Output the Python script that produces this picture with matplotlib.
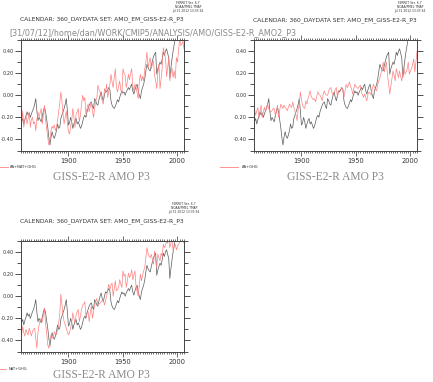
import matplotlib
matplotlib.use("Agg")
import matplotlib.pyplot as plt
from matplotlib.ticker import MultipleLocator, FixedLocator

years = list(range(1856, 2007))

obs = [
 -0.18,-0.24,-0.21,-0.26,-0.22,-0.19,-0.15,-0.18,-0.16,-0.20,
 -0.17,-0.14,-0.12,-0.08,-0.03,-0.14,-0.23,-0.20,-0.22,-0.24,
 -0.19,-0.14,-0.11,-0.15,-0.22,-0.29,-0.38,-0.45,-0.38,-0.33,
 -0.37,-0.39,-0.36,-0.32,-0.26,-0.30,-0.29,-0.21,-0.18,-0.15,
 -0.12,-0.08,-0.03,-0.14,-0.27,-0.25,-0.20,-0.24,-0.30,-0.26,
 -0.23,-0.21,-0.26,-0.24,-0.27,-0.30,-0.28,-0.24,-0.20,-0.18,
 -0.20,-0.15,-0.12,-0.09,-0.07,-0.06,-0.10,-0.12,-0.03,-0.05,
 -0.08,-0.09,-0.04,0.00,0.03,-0.02,-0.05,0.00,0.04,0.03,
 0.05,0.07,0.05,-0.05,-0.09,-0.11,-0.12,-0.10,-0.07,-0.04,
 -0.06,-0.02,0.01,0.04,0.02,0.03,0.00,0.03,0.05,0.07,
 0.05,0.08,0.10,0.04,0.01,0.05,0.08,0.10,0.04,0.00,
 -0.03,0.04,0.07,0.10,0.15,0.22,0.28,0.25,0.23,0.22,
 0.27,0.31,0.35,0.37,0.39,0.19,0.24,0.27,0.30,0.28,
 0.33,0.39,0.36,0.40,0.42,0.38,0.34,0.16,0.25,0.33,
 0.40,0.46,0.52,0.56,0.54,0.58,0.55,0.60,0.57,0.62,
 0.58]

aa_nat_ghg = [
 -0.20,-0.27,-0.14,-0.29,-0.22,-0.18,-0.26,-0.21,-0.15,-0.29,
 -0.22,-0.20,-0.26,-0.24,-0.32,-0.22,-0.15,-0.20,-0.16,-0.12,
 -0.26,-0.18,-0.09,-0.22,-0.30,-0.38,-0.45,-0.40,-0.32,-0.28,
 -0.30,-0.27,-0.32,-0.29,-0.23,-0.15,-0.08,0.03,-0.05,-0.17,
 -0.26,-0.20,-0.14,-0.25,-0.33,-0.35,-0.28,-0.23,-0.12,-0.20,
 -0.29,-0.17,-0.15,-0.12,-0.24,-0.18,-0.08,0.00,-0.05,-0.02,
 -0.17,-0.12,-0.08,-0.15,-0.10,-0.06,-0.14,-0.20,-0.12,-0.05,
 -0.03,0.09,0.05,0.03,-0.02,-0.05,-0.08,0.06,0.03,0.10,
 -0.02,0.04,0.10,0.19,0.12,0.07,0.16,0.24,0.07,0.03,
 0.08,0.13,0.05,0.01,0.24,0.20,0.18,0.07,0.12,0.19,
 0.14,0.20,0.24,0.09,0.04,0.10,0.07,0.02,-0.03,0.12,
 0.19,0.13,0.17,0.13,0.24,0.30,0.39,0.25,0.30,0.34,
 0.24,0.28,0.31,0.18,0.13,0.06,0.20,0.28,0.06,0.15,
 0.25,0.43,0.38,0.34,0.17,0.25,0.34,0.13,0.20,0.25,
 0.16,0.22,0.15,0.34,0.30,0.40,0.52,0.45,0.46,0.49,
 0.42]

aa_ghg = [
 -0.08,-0.13,-0.18,-0.14,-0.11,-0.21,-0.14,-0.09,-0.20,-0.15,
 -0.11,-0.15,-0.10,-0.08,-0.12,-0.15,-0.15,-0.14,-0.12,-0.12,
 -0.18,-0.15,-0.09,-0.20,-0.14,-0.08,-0.10,-0.12,-0.09,-0.11,
 -0.12,-0.14,-0.11,-0.08,-0.10,-0.11,-0.06,-0.11,-0.14,-0.18,
 -0.23,-0.12,-0.08,0.03,-0.04,-0.09,-0.11,-0.12,-0.05,-0.08,
 -0.03,0.00,0.04,-0.01,-0.03,-0.04,-0.03,-0.06,-0.01,0.03,
 0.01,0.00,-0.02,-0.05,0.01,0.04,0.01,0.00,0.00,0.04,
 0.06,0.07,0.02,0.00,0.03,0.05,0.07,-0.02,0.04,0.04,
 0.05,0.07,0.05,-0.02,0.04,0.10,0.07,0.09,0.12,0.08,
 0.06,0.01,0.06,0.10,0.08,0.07,0.06,0.08,0.09,0.03,
 0.00,-0.02,0.01,-0.02,-0.05,0.01,0.03,0.02,0.00,0.06,
 0.10,0.07,0.05,0.04,0.10,0.13,0.16,0.20,0.24,0.30,
 0.21,0.26,0.30,0.18,0.10,0.01,0.08,0.15,0.22,0.18,
 0.13,0.24,0.20,0.16,0.22,0.17,0.13,0.20,0.25,0.19,
 0.21,0.24,0.30,0.19,0.22,0.24,0.28,0.33,0.21,0.30,
 0.40]

nat_ghg = [
 -0.29,-0.35,-0.27,-0.33,-0.36,-0.30,-0.33,-0.35,-0.29,-0.32,
 -0.36,-0.32,-0.30,-0.29,-0.38,-0.47,-0.33,-0.26,-0.22,-0.20,
 -0.23,-0.17,-0.11,-0.25,-0.33,-0.44,-0.47,-0.39,-0.35,-0.37,
 -0.38,-0.32,-0.34,-0.35,-0.30,-0.24,-0.17,0.02,-0.08,-0.17,
 -0.23,-0.26,-0.29,-0.32,-0.35,-0.33,-0.28,-0.24,-0.15,-0.20,
 -0.24,-0.17,-0.14,-0.12,-0.23,-0.18,-0.12,-0.08,-0.07,-0.05,
 -0.18,-0.16,-0.14,-0.23,-0.15,-0.09,-0.20,-0.14,-0.08,-0.05,
 -0.02,-0.08,-0.07,-0.06,-0.05,-0.04,-0.03,-0.08,-0.04,0.00,
 0.06,0.11,0.06,0.10,0.12,0.00,0.07,0.14,0.05,0.06,
 0.08,0.15,0.11,0.08,0.23,0.18,0.20,0.08,0.14,0.21,
 0.17,0.19,0.24,0.15,0.19,0.23,0.09,0.04,0.00,0.10,
 0.20,0.14,0.19,0.23,0.26,0.35,0.44,0.39,0.36,0.35,
 0.38,0.33,0.29,0.41,0.33,0.26,0.38,0.35,0.32,0.39,
 0.36,0.47,0.44,0.46,0.50,0.48,0.53,0.44,0.48,0.53,
 0.41,0.45,0.47,0.42,0.45,0.47,0.49,0.51,0.50,0.53,
 0.48]

title_top = "CALENDAR: 360_DAYDATA SET: AMO_EM_GISS-E2-R_P3"
path_text = "[31/07/12]/home/dan/WORK/CMIP5/ANALYSIS/AMO/GISS-E2-R_AMO2_P3"
main_title = "GISS-E2-R AMO P3"
legend_labels = ["AA+NAT+GHG", "AA+GHG", "NAT+GHG"]
ferret_lines = "FERRET Ver. 6.7\nNOAA/PMEL TMAP\nJul 31 2012 13:33:34"
yticks = [-0.40, -0.20, 0.00, 0.20, 0.40]
xticks = [1900, 1950, 2000]

W, H = 433, 382
fig = plt.figure(figsize=(W / 100, H / 100), dpi=100)

RED = "#ff8080"
BLK = "#5a5a5a"
TXT = "#333333"

def px(x, y):
    return x / W, 1 - y / H

def make_axes(x0, y0, x1, y1, series, label, leg_line, leg_text, title_xy, main_xy, ferret_xy):
    ax = fig.add_axes([x0 / W, 1 - y1 / H, (x1 - x0) / W, (y1 - y0) / H])
    ax.plot(years, obs, color=BLK, lw=0.5)
    ax.plot(years, series, color=RED, lw=0.5)
    ax.set_xlim(1856, 2006)
    ax.set_ylim(-0.5, 0.5)
    ax.yaxis.set_major_locator(FixedLocator(yticks))
    ax.yaxis.set_minor_locator(MultipleLocator(0.1))
    ax.xaxis.set_major_locator(FixedLocator(xticks))
    ax.xaxis.set_minor_locator(MultipleLocator(2))
    ax.set_yticklabels(["%.2f" % v for v in yticks])
    ax.tick_params(axis="y", which="both", direction="out", right=True, left=True,
                   labelsize=3.6, colors=TXT, pad=1, width=0.6)
    ax.tick_params(axis="y", which="major", length=4)
    ax.tick_params(axis="y", which="minor", length=3)
    ax.tick_params(axis="x", which="both", direction="out", top=True, bottom=True,
                   labelsize=4.8, colors=TXT, pad=2, width=0.5)
    ax.tick_params(axis="x", which="major", length=3.5)
    ax.tick_params(axis="x", which="minor", length=1.5)
    for s in ax.spines.values():
        s.set_color("#444444")
        s.set_linewidth(0.7)
    lx0, lx1, ly = leg_line
    fig.add_artist(plt.Line2D([lx0 / W, lx1 / W], [1 - ly / H, 1 - ly / H],
                              color=RED, lw=0.6, transform=fig.transFigure))
    fig.text(*px(leg_text, ly), label, fontsize=2.6, color=TXT, va="center", ha="left")
    fig.text(*px(*title_xy), title_top, fontsize=4.3, color=TXT, va="center", ha="center")
    fig.text(*px(*main_xy), main_title, fontsize=8.3, color="#8a8a8a", va="center",
             ha="center", family="Liberation Serif")
    fig.text(*px(*ferret_xy), ferret_lines, fontsize=2.2, color=TXT, va="top",
             ha="center", linespacing=1.0)
    return ax

make_axes(20.5, 40, 184, 150.5, aa_nat_ghg, legend_labels[0], (0, 8, 167), 10,
          (102, 19), (101, 177), (188, 1))
make_axes(253.5, 40, 417, 150.5, aa_ghg, legend_labels[1], (220, 238, 167), 242,
          (335, 20), (335, 177), (410, 1))
make_axes(20.5, 241, 184, 351.5, nat_ghg, legend_labels[2], (0, 6, 369), 9,
          (102, 221), (101, 375.5), (184, 202))

fig.text(*px(9, 33), path_text, fontsize=5.75, color="#8a8a8a", va="center", ha="left")

fig.savefig("out.png", dpi=100)
